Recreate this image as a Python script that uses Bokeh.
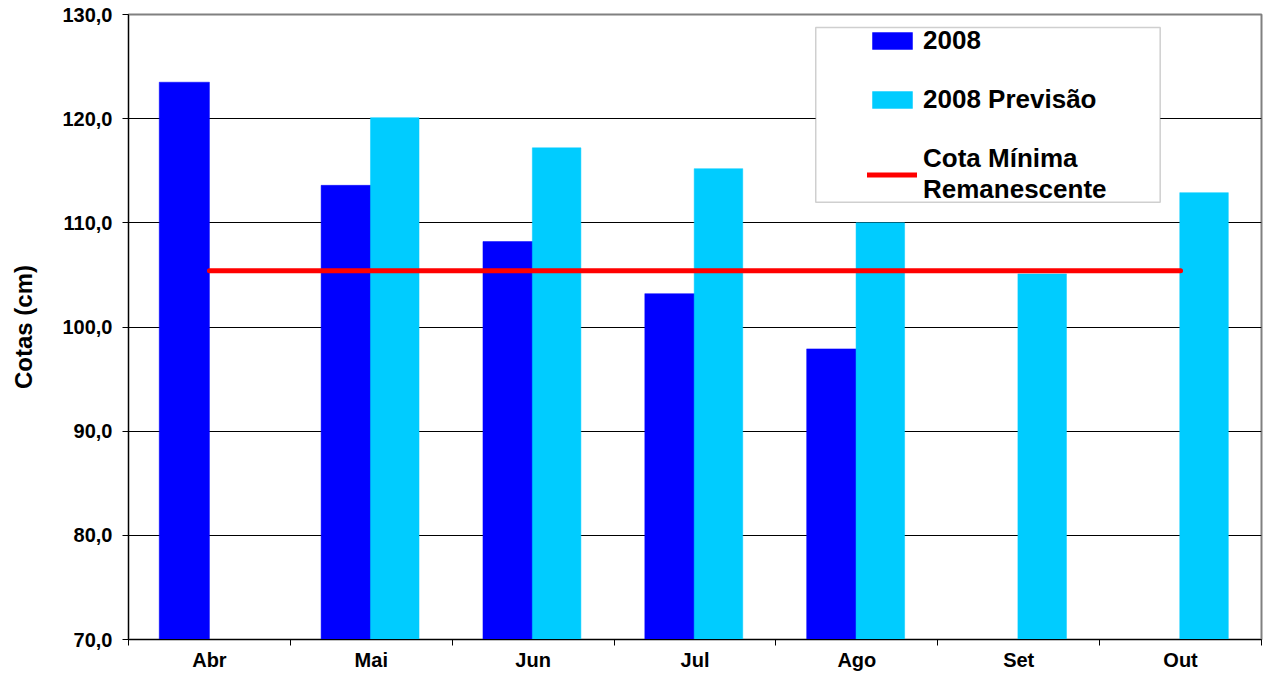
from bokeh.plotting import figure
from bokeh.models import (ColumnDataSource, FixedTicker, Range1d, Legend,
                          LegendItem, BoxAnnotation)
from bokeh.transform import dodge
from bokeh.embed import file_html
from bokeh.resources import INLINE

# ---- data ----
months = ["Abr", "Mai", "Jun", "Jul", "Ago", "Set", "Out"]
cotas_2008 = [123.5, 113.6, 108.2, 103.2, 97.9, None, None]
cotas_previsao = [None, 120.1, 117.2, 115.2, 110.0, 105.1, 112.9]
cota_minima = [105.4, 105.4, 105.4, 105.4, 105.4, 105.4, 105.4]
y_ticks = [70, 80, 90, 100, 110, 120, 130]
y_tick_labels = ["70,0", "80,0", "90,0", "100,0", "110,0", "120,0", "130,0"]

FONT = "Liberation Sans"
pos = [i + 0.5 for i in range(len(months))]

src_a = ColumnDataSource(dict(
    x=[p for p, v in zip(pos, cotas_2008) if v is not None],
    top=[v for v in cotas_2008 if v is not None]))
src_b = ColumnDataSource(dict(
    x=[p for p, v in zip(pos, cotas_previsao) if v is not None],
    top=[v for v in cotas_previsao if v is not None]))
src_l = ColumnDataSource(dict(x=pos, y=cota_minima))

p = figure(width=1263, height=673, x_range=Range1d(0, len(months)),
           y_range=Range1d(70, 130), output_backend="svg",
           toolbar_location=None, min_border_left=128, min_border_top=14,
           min_border_right=2, min_border_bottom=30)
p.background_fill_color = "white"
p.border_fill_color = "white"
p.outline_line_color = "#808080"
p.outline_line_width = 2

r1 = p.vbar(x=dodge("x", -0.155), top="top", bottom=70, width=0.31, source=src_a,
            fill_color="#0000FF", line_color="#0000FF", line_width=0.5)
r2 = p.vbar(x=dodge("x", 0.145), top="top", bottom=70, width=0.3, source=src_b,
            fill_color="#00CCFF", line_color="#00CCFF", line_width=0.5)
r3 = p.line(x="x", y="y", source=src_l, line_color="#FF0000", line_width=5,
            line_cap="round")

# grid
p.xgrid.visible = False
p.ygrid.ticker = FixedTicker(ticks=y_ticks)
p.ygrid.grid_line_color = "black"
p.ygrid.grid_line_width = 1

# y axis
ya = p.yaxis[0]
ya.ticker = FixedTicker(ticks=y_ticks)
ya.major_label_overrides = dict(zip(y_ticks, y_tick_labels))
ya.major_label_text_font = FONT
ya.major_label_text_font_style = "bold"
ya.major_label_text_font_size = "20px"
ya.major_label_text_color = "black"
ya.major_tick_out = 6
ya.major_tick_in = 0
ya.minor_tick_out = 0
ya.minor_tick_in = 0
ya.major_label_standoff = 10
ya.axis_line_color = "black"
ya.major_tick_line_color = "black"
ya.axis_label = "Cotas (cm)"
ya.axis_label_text_font = FONT
ya.axis_label_text_font_style = "bold"
ya.axis_label_text_font_size = "24px"
ya.axis_label_text_color = "black"
ya.axis_label_standoff = 22

# x axis: labels at category centres, ticks at category boundaries
xa = p.xaxis[0]
xa.ticker = FixedTicker(ticks=pos, minor_ticks=list(range(len(months) + 1)))
xa.major_label_overrides = dict(zip(pos, months))
xa.major_label_text_font = FONT
xa.major_label_text_font_style = "bold"
xa.major_label_text_font_size = "20px"
xa.major_label_text_color = "black"
xa.major_tick_out = 0
xa.major_tick_in = 0
xa.minor_tick_out = 6
xa.minor_tick_in = 0
xa.minor_tick_line_color = "black"
xa.major_label_standoff = 3
xa.axis_line_color = "black"

# legend frame
box = BoxAnnotation(left=4.246, right=6.374, top=128.75, bottom=111.97,
                    fill_color="white", fill_alpha=1.0,
                    line_color="#606060", line_width=1.5)
p.add_layout(box)

legend = Legend(items=[
    LegendItem(label="2008", renderers=[r1]),
    LegendItem(label="2008 Previsão", renderers=[r2]),
    LegendItem(label="Cota Mínima\nRemanescente", renderers=[r3]),
], location=(739, 434), border_line_alpha=0, background_fill_alpha=0,
    glyph_width=50, glyph_height=21, label_standoff=6, spacing=28,
    padding=0, margin=0, label_text_font=FONT, label_text_font_style="bold",
    label_text_font_size="26px", label_text_color="black")
p.add_layout(legend)

open("out.html", "w").write(file_html(p, INLINE))
